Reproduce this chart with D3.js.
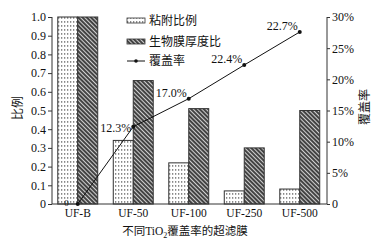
<!DOCTYPE html>
<html><head><meta charset="utf-8">
<script src="https://cdn.jsdelivr.net/npm/d3@7"></script>
<style>
body{margin:0;background:#fff;}
text{fill:#111;}
</style></head>
<body><svg id="c" width="381" height="240"></svg>
<script>
const categories = ["UF-B","UF-50","UF-100","UF-250","UF-500"];
const adhesion = [1.0, 0.34, 0.22, 0.07, 0.08];          // 粘附比例
const thickness = [1.0, 0.66, 0.51, 0.30, 0.50];         // 生物膜厚度比
const coverage = [0, 12.4, 16.9, 22.3, 27.6];            // 覆盖率 (%)
const coverageLabels = ["0","12.3%","17.0%","22.4%","22.7%"];
const leftTicks = [0,0.1,0.2,0.3,0.4,0.5,0.6,0.7,0.8,0.9,1.0];
const rightTicks = [0,5,10,15,20,25,30];
const seriesNames = ["粘附比例","生物膜厚度比","覆盖率"];

const serif = "'Liberation Serif','DejaVu Serif',serif";
const cjk = "'Noto Sans CJK SC','Liberation Serif',sans-serif";

const svg = d3.select("#c");
const defs = svg.append("defs");
const pd = defs.append("pattern").attr("id","dots").attr("patternUnits","userSpaceOnUse")
  .attr("width",3).attr("height",4);
pd.append("rect").attr("width",3).attr("height",4).attr("fill","#fff");
pd.append("rect").attr("x",1).attr("y",1).attr("width",1.3).attr("height",1.8).attr("fill","#888");
const ph = defs.append("pattern").attr("id","hatch").attr("patternUnits","userSpaceOnUse")
  .attr("width",3).attr("height",3).attr("patternTransform","rotate(-45)");
ph.append("rect").attr("width",3).attr("height",3).attr("fill","#d0d0d0");
ph.append("line").attr("x1",1).attr("x2",1).attr("y1",0).attr("y2",3).attr("stroke","#2a2a2a").attr("stroke-width",1.7);

const L = 52, R = 327, T = 17, B = 204;
const x = d3.scaleBand().domain(categories).range([50, 327.5]).paddingInner(0.28).paddingOuter(0.14);
const y = d3.scaleLinear().domain([0,1]).range([B,T]);
const y2 = d3.scaleLinear().domain([0,30]).range([B,T]);
const bw = x.bandwidth()/2;

// bars
const g = svg.append("g");
categories.forEach((c,i)=>{
  g.append("rect").attr("x",x(c)).attr("y",y(adhesion[i])).attr("width",bw)
    .attr("height",y(0)-y(adhesion[i])).attr("fill","url(#dots)").attr("stroke","#333").attr("stroke-width",1);
  g.append("rect").attr("x",x(c)+bw).attr("y",y(thickness[i])).attr("width",bw)
    .attr("height",y(0)-y(thickness[i])).attr("fill","url(#hatch)").attr("stroke","#333").attr("stroke-width",1);
});

// axes
const ax = svg.append("g").attr("transform",`translate(${L},0)`)
  .call(d3.axisLeft(y).tickValues(leftTicks).tickSize(4).tickPadding(2).tickFormat(d=>d===0?"0":d3.format(".1f")(d)));
const ax2 = svg.append("g").attr("transform",`translate(${R},0)`)
  .call(d3.axisRight(y2).tickValues(rightTicks).tickSize(3).tickPadding(2).tickFormat(d=>d===0?"0":d+"%"));
[ax,ax2].forEach(a=>{
  a.select(".domain").attr("d",`M0,${T}V${B}`).attr("stroke","#333");
  a.selectAll(".tick line").attr("stroke","#333");
  a.selectAll("text").attr("font-family",serif).attr("font-size",12).attr("fill","#111");
});
svg.append("line").attr("x1",L).attr("x2",R).attr("y1",B).attr("y2",B).attr("stroke","#333");

// x labels
svg.append("g").selectAll("text").data(categories).join("text")
  .attr("x",d=>x(d)+x.bandwidth()/2).attr("y",B+12.5).attr("text-anchor","middle")
  .attr("font-family",serif).attr("font-size",11.5).text(d=>d);

// line
const cx = i => x(categories[i])+x.bandwidth()/2;
svg.append("path").datum(coverage)
  .attr("d",d3.line().x((d,i)=>cx(i)).y(d=>y2(d)))
  .attr("fill","none").attr("stroke","#111").attr("stroke-width",1);
svg.append("g").selectAll("circle").data(coverage).join("circle")
  .attr("cx",(d,i)=>cx(i)).attr("cy",d=>y2(d)).attr("r",2).attr("fill","#111");
svg.append("g").selectAll("text").data(coverage).join("text")
  .attr("x",(d,i)=>cx(i)-(i===0?9:2)).attr("y",(d,i)=>y2(d)+(i===0?2:(i===1?5:-2)))
  .attr("text-anchor","end").attr("font-family",serif)
  .attr("font-size",(d,i)=>i===0?9:12)
  .text((d,i)=>coverageLabels[i]);

// legend
const lg = svg.append("g");
lg.append("rect").attr("x",127).attr("y",18).attr("width",18).attr("height",5).attr("fill","url(#dots)").attr("stroke","#333").attr("stroke-width",0.8);
lg.append("rect").attr("x",127).attr("y",39).attr("width",18).attr("height",5).attr("fill","url(#hatch)").attr("stroke","#333").attr("stroke-width",0.8);
lg.append("line").attr("x1",127).attr("x2",145).attr("y1",61).attr("y2",61).attr("stroke","#111");
lg.append("circle").attr("cx",136).attr("cy",61).attr("r",1.8).attr("fill","#111");
[20.5,41.5,61].forEach((yy,i)=>{
  lg.append("text").attr("x",149).attr("y",yy).attr("dy","0.36em").attr("font-family",cjk).attr("font-size",12).text(seriesNames[i]);
});

// axis titles
svg.append("text").attr("transform","translate(18,108) rotate(-90)").attr("text-anchor","middle").attr("dy","0.36em")
  .attr("font-family",cjk).attr("font-size",12).text("比例");
svg.append("text").attr("transform","translate(365,107) rotate(-90)").attr("text-anchor","middle").attr("dy","0.36em")
  .attr("font-family",cjk).attr("font-size",12).text("覆盖率");
const xt = svg.append("text").attr("x",185).attr("y",235).attr("text-anchor","middle").attr("font-size",11.5).attr("font-family",cjk);
xt.append("tspan").text("不同");
xt.append("tspan").attr("font-family",serif).text("TiO");
xt.append("tspan").attr("font-family",serif).attr("font-size",8).attr("dy",3).text("2");
xt.append("tspan").attr("dy",-3).text("覆盖率的超滤膜");
</script></body></html>
